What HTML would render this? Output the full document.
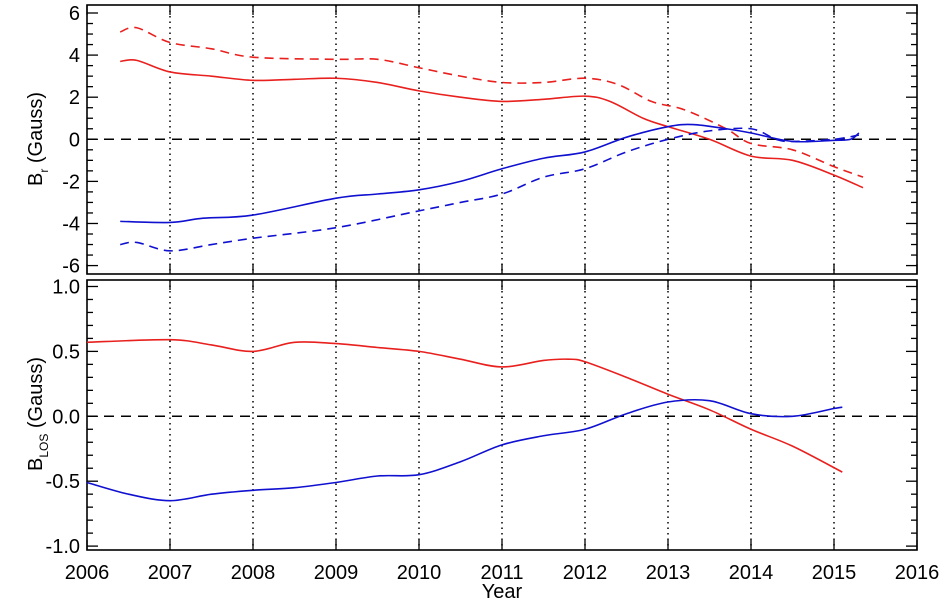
<!DOCTYPE html>
<html><head><meta charset="utf-8"><style>
body{margin:0;background:#fff}
svg{display:block;font-family:"Liberation Sans",sans-serif}
</style></head><body>
<svg id="c" width="945" height="610"></svg>
<script>
const yearTicks=[2006,2007,2008,2009,2010,2011,2012,2013,2014,2015,2016];
const topTicks=[6,4,2,0,-2,-4,-6];
const botTicks=["1.0","0.5","0.0","-0.5","-1.0"];
const brRedX=[2006.4,2006.6,2007,2007.5,2008,2008.5,2009,2009.5,2010,2010.5,2011,2011.5,2012,2012.3,2012.7,2013,2013.5,2014,2014.5,2015,2015.35];
const brRedY=[3.7,3.75,3.2,3.0,2.8,2.85,2.9,2.7,2.3,2.0,1.8,1.9,2.05,1.8,1.0,0.6,0.0,-0.8,-1.0,-1.7,-2.3];
const brRedDX=[2006.4,2006.6,2007,2007.5,2008,2009,2009.5,2010,2010.5,2011,2011.5,2012,2012.4,2012.8,2013.2,2013.7,2014,2014.5,2015,2015.35];
const brRedDY=[5.1,5.3,4.6,4.3,3.9,3.8,3.8,3.4,3.0,2.7,2.7,2.9,2.6,1.8,1.4,0.5,-0.2,-0.5,-1.3,-1.8];
const brBlueX=[2006.4,2007,2007.4,2008,2009,2009.5,2010,2010.5,2011,2011.5,2012,2012.5,2013,2013.3,2013.7,2014,2014.5,2015,2015.2,2015.3];
const brBlueY=[-3.9,-3.95,-3.75,-3.6,-2.8,-2.6,-2.4,-2.0,-1.4,-0.9,-0.6,0.1,0.6,0.7,0.5,0.3,-0.1,-0.05,0.0,0.3];
const brBlueDX=[2006.4,2006.6,2007,2007.5,2008,2009,2010,2010.5,2011,2011.5,2012,2012.5,2013,2013.5,2014,2014.3,2014.5,2015,2015.3];
const brBlueDY=[-5.0,-4.9,-5.3,-5.0,-4.7,-4.2,-3.4,-3.0,-2.6,-1.8,-1.4,-0.6,0.0,0.4,0.5,0.0,-0.1,0.0,0.2];
const losRedX=[2006,2007,2007.5,2008,2008.5,2009,2009.5,2010,2010.5,2011,2011.5,2011.8,2012,2012.5,2013,2013.5,2014,2014.5,2015.1];
const losRedY=[0.57,0.59,0.55,0.5,0.57,0.56,0.53,0.5,0.44,0.38,0.43,0.44,0.42,0.3,0.17,0.05,-0.1,-0.23,-0.43];
const losBlueX=[2006,2006.5,2007,2007.5,2008,2008.5,2009,2009.5,2010,2010.5,2011,2011.5,2012,2012.5,2013,2013.5,2014,2014.5,2015,2015.1];
const losBlueY=[-0.51,-0.6,-0.65,-0.6,-0.57,-0.55,-0.51,-0.46,-0.45,-0.35,-0.22,-0.15,-0.1,0.02,0.11,0.12,0.02,0.0,0.06,0.07];

const svg=document.getElementById('c');const NS='http://www.w3.org/2000/svg';
function el(t,a,p){const e=document.createElementNS(NS,t);for(const k in a)e.setAttribute(k,a[k]);(p||svg).appendChild(e);return e;}
const L=87,R=917;
const xs=v=>L+(v-2006)/10*(R-L);
const P1={t:5,b:274,min:-6.4,max:6.38},P2={t:280,b:550,min:-1.03,max:1.05};
const ys=(p,v)=>p.b-(v-p.min)/(p.max-p.min)*(p.b-p.t);
function smooth(pts){let d='M'+pts[0][0]+','+pts[0][1];for(let i=0;i<pts.length-1;i++){const p0=pts[i-1]||pts[i],p1=pts[i],p2=pts[i+1],p3=pts[i+2]||p2;d+=' C'+(p1[0]+(p2[0]-p0[0])/6)+','+(p1[1]+(p2[1]-p0[1])/6)+' '+(p2[0]-(p3[0]-p1[0])/6)+','+(p2[1]-(p3[1]-p1[1])/6)+' '+p2[0]+','+p2[1];}return d;}
function series(p,X,Y,col,dash,name){const e=el('path',{d:smooth(X.map((x,i)=>[xs(x),ys(p,Y[i])])),fill:'none',stroke:col,'stroke-width':1.6,'stroke-dasharray':dash||'none'});

}
[P1,P2].forEach((p,pi)=>{
  yearTicks.slice(1,10).forEach(y=>{const e=el('line',{x1:xs(y),x2:xs(y),y1:p.t,y2:p.b,stroke:'#000','stroke-width':1.5,'stroke-dasharray':'1.5,4'});
  
  });
  const z=el('line',{x1:L,x2:R,y1:ys(p,0),y2:ys(p,0),stroke:'#000','stroke-width':1.5,'stroke-dasharray':'10,7'});
  
  
  const step=pi==0?0.5:0.1,maj=pi==0?2:0.5;
  for(let v=Math.ceil(p.min/step)*step;v<=p.max+1e-9;v+=step){const y=ys(p,v);const m=Math.abs(v/maj-Math.round(v/maj))<1e-6;const w=m?11:6;
    el('line',{x1:L,x2:L+w,y1:y,y2:y,stroke:'#000','stroke-width':1.3});el('line',{x1:R,x2:R-w,y1:y,y2:y,stroke:'#000','stroke-width':1.3});}
  yearTicks.forEach(y=>{el('line',{x1:xs(y),x2:xs(y),y1:p.b,y2:p.b-10,stroke:'#000','stroke-width':1.3});el('line',{x1:xs(y),x2:xs(y),y1:p.t,y2:p.t+10,stroke:'#000','stroke-width':1.3});});
  const f=el('rect',{x:L,y:p.t,width:R-L,height:p.b-p.t,fill:'none',stroke:'#000','stroke-width':1.6});
  
  
});
topTicks.forEach(v=>{const t=el('text',{x:80,y:ys(P1,v)+7,'text-anchor':'end','font-size':20});t.textContent=v;

});
botTicks.forEach(v=>{const t=el('text',{x:80,y:ys(P2,+v)+7,'text-anchor':'end','font-size':20});t.textContent=v;

});
yearTicks.forEach(v=>{const t=el('text',{x:xs(v),y:579,'text-anchor':'middle','font-size':20});t.textContent=v;

});
series(P1,brRedDX,brRedDY,'#e8201e','9,6','br-red-dashed');
series(P1,brRedX,brRedY,'#e8201e','','br-red-solid');
series(P1,brBlueDX,brBlueDY,'#1010d0','9,6','br-blue-dashed');
series(P1,brBlueX,brBlueY,'#1010d0','','br-blue-solid');
series(P2,losRedX,losRedY,'#e8201e','','blos-red');
series(P2,losBlueX,losBlueY,'#1010d0','','blos-blue');
</script>
<svg style="position:absolute;left:0;top:0" width="945" height="610">
<text x="502" y="598" text-anchor="middle" font-size="20" font-family="Liberation Sans">Year</text>
<text transform="translate(42,139) rotate(-90)" text-anchor="middle" font-size="20" font-family="Liberation Sans">B<tspan font-size="12" dy="6">r</tspan><tspan dy="-6"> (Gauss)</tspan></text>
<text transform="translate(42,414) rotate(-90)" text-anchor="middle" font-size="20" font-family="Liberation Sans">B<tspan font-size="12" dy="6">LOS</tspan><tspan dy="-6"> (Gauss)</tspan></text>
</svg>
</body></html>
